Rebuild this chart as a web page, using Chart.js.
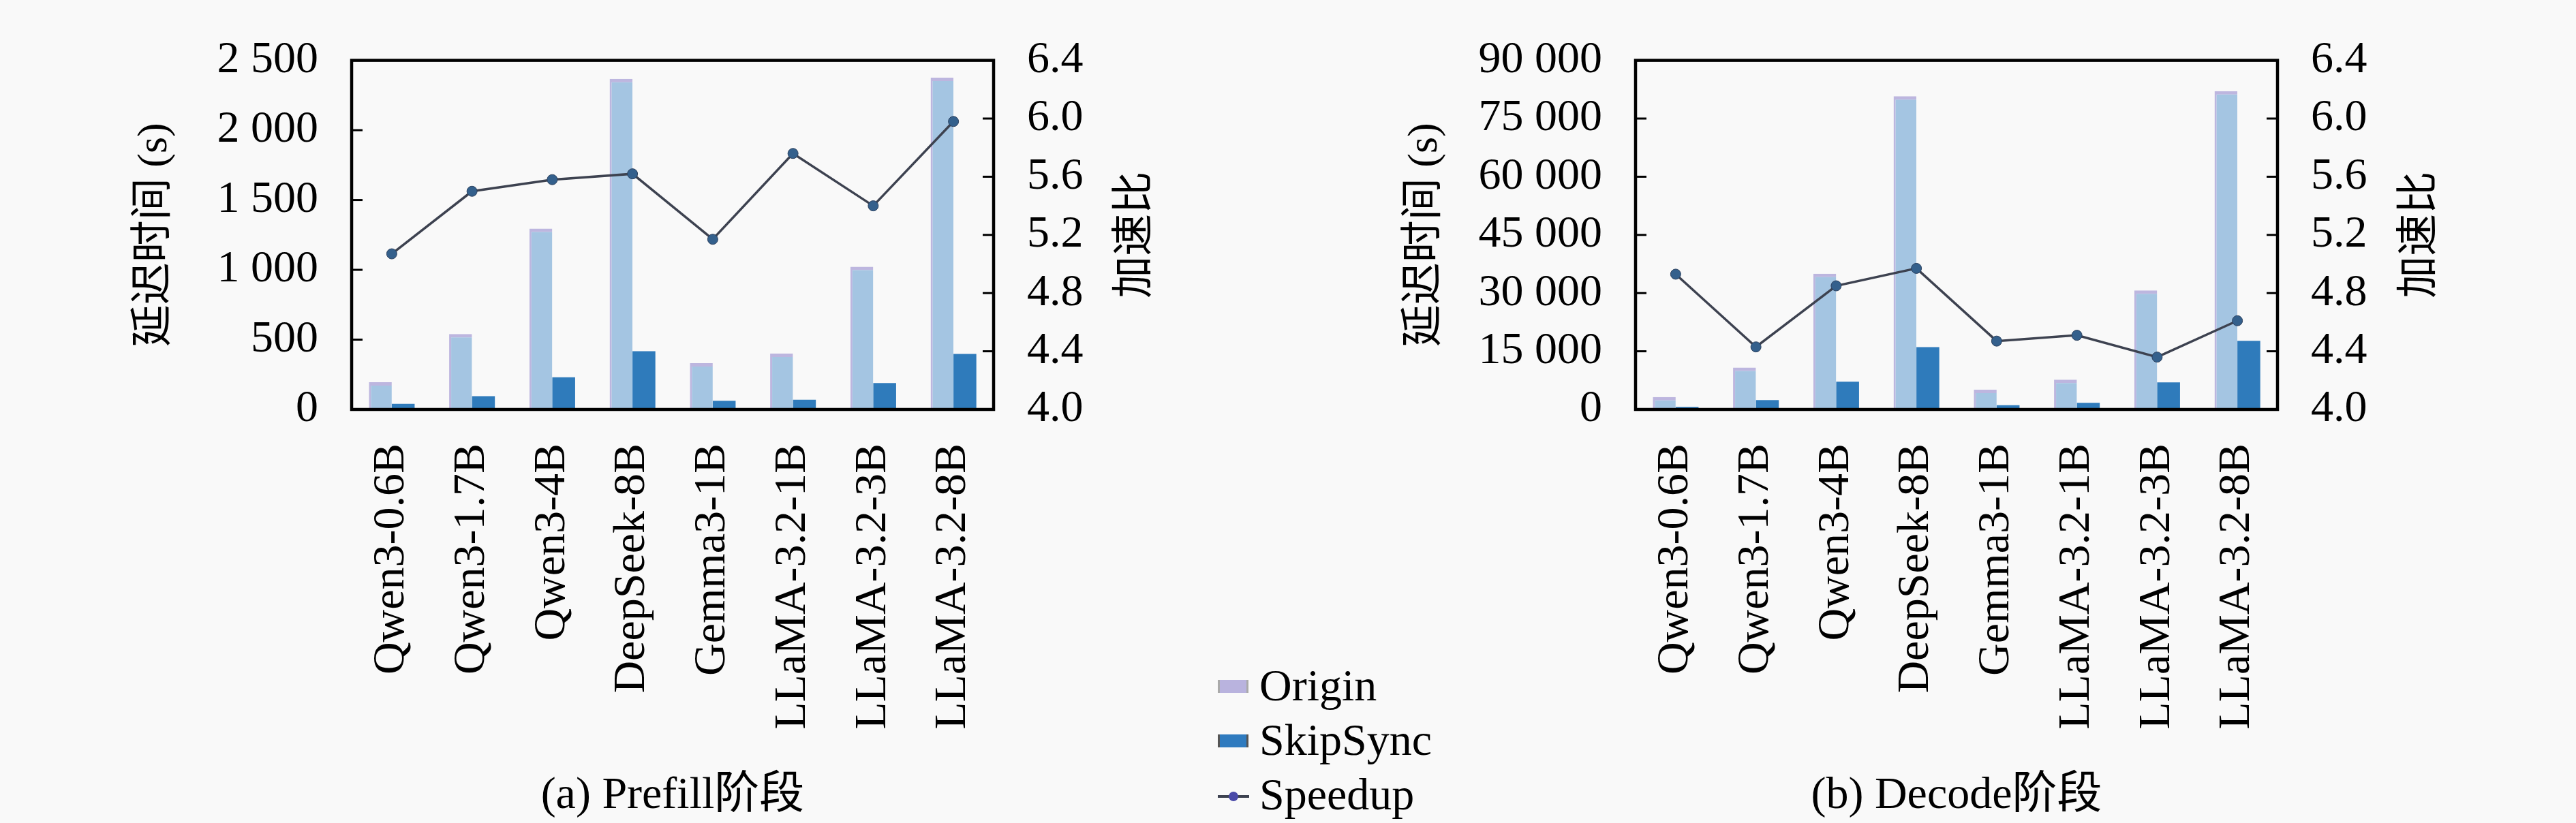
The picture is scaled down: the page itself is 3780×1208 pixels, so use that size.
<!DOCTYPE html>
<html>
<head>
<meta charset="utf-8">
<script src="https://cdn.jsdelivr.net/npm/chart.js@4.4.1/dist/chart.umd.min.js"></script>
<style>
  html, body { margin:0; padding:0; background:#f9f9f9; }
  #page { position:relative; width:3780px; height:1208px; overflow:hidden; background:#f9f9f9; }
  canvas { position:absolute; top:0; }
  .lg { position:absolute; font-family:"Liberation Serif", serif; font-size:66px; line-height:80px; height:80px; color:#000; white-space:nowrap; }
  .sw { position:absolute; }
</style>
</head>
<body>
<div id="page">
  <canvas id="c1" width="1700" height="1208" style="left:0px;width:1700px;height:1208px;"></canvas>
  <canvas id="c2" width="1880" height="1208" style="left:1900px;width:1880px;height:1208px;"></canvas>
  <div class="sw" style="left:1787px;top:998px;width:45px;height:19px;background:#b9b3de;box-shadow:inset 3px 0 0 #aaa,inset -3px 0 0 #aaa;"></div>
  <div class="lg" style="left:1848px;top:966px;">Origin</div>
  <div class="sw" style="left:1787px;top:1078px;width:45px;height:19px;background:#2f7bbf;box-shadow:inset 3px 0 0 #555,inset -3px 0 0 #555;"></div>
  <div class="lg" style="left:1848px;top:1046px;">SkipSync</div>
  <div class="sw" style="left:1787px;top:1167px;width:46px;height:4px;background:#3d4250;"></div>
  <div class="sw" style="left:1803px;top:1162px;width:14px;height:14px;border-radius:50%;background:#4a4aa8;"></div>
  <div class="lg" style="left:1848px;top:1126px;">Speedup</div>
</div>
<script>
// ---- data ----
const categories = ['Qwen3-0.6B','Qwen3-1.7B','Qwen3-4B','DeepSeek-8B','Gemma3-1B','LLaMA-3.2-1B','LLaMA-3.2-3B','LLaMA-3.2-8B'];
const seriesNames = ['Origin','SkipSync','Speedup'];
const prefillOrigin   = [195, 540, 1295, 2367, 332, 400, 1022, 2376];
const prefillSkipSync = [40, 95, 230, 417, 62, 69, 189, 398];
const prefillSpeedup  = [5.07, 5.50, 5.58, 5.62, 5.17, 5.76, 5.40, 5.98];
const decodeOrigin    = [3190, 10790, 34990, 80760, 5100, 7680, 30680, 82070];
const decodeSkipSync  = [650, 2400, 7170, 16070, 1100, 1720, 7000, 17700];
const decodeSpeedup   = [4.93, 4.43, 4.85, 4.97, 4.47, 4.51, 4.36, 4.61];
const prefillLatencyTicks = [0, 500, 1000, 1500, 2000, 2500];
const decodeLatencyTicks  = [0, 15000, 30000, 45000, 60000, 75000, 90000];
const speedupTicks        = [4.0, 4.4, 4.8, 5.2, 5.6, 6.0, 6.4];
const latencyTitle = '延迟时间 (s)';
const speedupTitle = '加速比';
const captionPrefill = '(a) Prefill阶段';
const captionDecode  = '(b) Decode阶段';

// ---- styling ----
const SERIF = '"Liberation Serif", "Noto Sans CJK SC", serif';
const tickFont = { family: SERIF, size: 66 };
const titleFont = { family: SERIF, size: 62 };

function fmtThousands(v) {
  if (v >= 1000) return Math.floor(v / 1000) + ' ' + String(v % 1000).padStart(3, '0');
  return String(v);
}

const framePlugin = {
  id: 'frame',
  afterDatasetsDraw(chart, args, opts) {
    const { ctx, chartArea: a, scales } = chart;
    ctx.save();
    ctx.strokeStyle = '#000';
    ctx.lineWidth = 3;
    scales.y.ticks.forEach(t => {
      const yy = scales.y.getPixelForValue(t.value);
      ctx.beginPath(); ctx.moveTo(a.left, yy); ctx.lineTo(a.left + 16, yy); ctx.stroke();
    });
    scales.y1.ticks.forEach(t => {
      const yy = scales.y1.getPixelForValue(t.value);
      ctx.beginPath(); ctx.moveTo(a.right, yy); ctx.lineTo(a.right - 16, yy); ctx.stroke();
    });
    ctx.lineWidth = 4.5;
    ctx.strokeRect(a.left, a.top, a.right - a.left, a.bottom - a.top);
    // right axis title, reading bottom-to-top
    ctx.translate(opts.titleX, (a.top + a.bottom) / 2);
    ctx.rotate(-Math.PI / 2);
    ctx.fillStyle = '#000';
    ctx.font = titleFont.size + 'px ' + SERIF;
    ctx.textAlign = 'center';
    ctx.textBaseline = 'middle';
    ctx.fillText(speedupTitle, 0, 0);
    ctx.restore();
  }
};

function makeChart(id, origin, skip, speedup, latTicks, caption, yWidth, yTitlePad, y1Width, rightTitleX) {
  return new Chart(document.getElementById(id), {
    data: {
      labels: categories,
      datasets: [
        { type: 'line', label: seriesNames[2], data: speedup, yAxisID: 'y1', order: 0,
          borderColor: '#3d4250', borderWidth: 3.5, pointRadius: 7.5,
          pointBackgroundColor: '#34608c', pointBorderColor: '#2b3f5c', pointBorderWidth: 1 },
        { type: 'bar', label: seriesNames[0], data: origin, yAxisID: 'y', order: 1,
          backgroundColor: '#a4c5e2', borderColor: '#bdb6df',
          borderWidth: { top: 5, left: 3, right: 0, bottom: 0 }, borderSkipped: false,
          barPercentage: 1, categoryPercentage: 0.57 },
        { type: 'bar', label: seriesNames[1], data: skip, yAxisID: 'y', order: 1,
          backgroundColor: '#2f7bbb', borderColor: '#2a6aa3', borderWidth: 0,
          barPercentage: 1, categoryPercentage: 0.57 }
      ]
    },
    options: {
      responsive: false,
      animation: false,
      devicePixelRatio: 1,
      layout: { padding: { top: 36, left: 0, right: 0, bottom: 0 } },
      plugins: { legend: { display: false }, tooltip: { enabled: false }, frame: { titleX: rightTitleX } },
      scales: {
        x: {
          grid: { display: false, drawTicks: false },
          border: { display: false },
          ticks: { minRotation: 90, maxRotation: 90, padding: 50, color: '#000', font: tickFont, autoSkip: false },
          title: { display: true, text: caption, color: '#000', font: tickFont, padding: { top: 0, bottom: 0 } },
          afterFit(s) { s.height = 607; }
        },
        y: {
          position: 'left',
          min: latTicks[0], max: latTicks[latTicks.length - 1],
          afterBuildTicks(s) { s.ticks = latTicks.map(v => ({ value: v })); },
          grid: { display: false, drawTicks: false },
          border: { display: false },
          ticks: { padding: 49, color: '#000', font: tickFont, callback: v => fmtThousands(v) },
          title: { display: true, text: latencyTitle, color: '#000', font: titleFont, padding: { top: yTitlePad, bottom: 0 } },
          afterFit(s) { s.width = yWidth; }
        },
        y1: {
          position: 'right',
          min: speedupTicks[0], max: speedupTicks[speedupTicks.length - 1],
          afterBuildTicks(s) { s.ticks = speedupTicks.map(v => ({ value: v })); },
          grid: { display: false, drawTicks: false },
          border: { display: false },
          ticks: { padding: 49, color: '#000', font: tickFont, callback: v => Number(v).toFixed(1) },
          afterFit(s) { s.width = y1Width; }
        }
      }
    },
    plugins: [framePlugin]
  });
}

makeChart('c1', prefillOrigin, prefillSkipSync, prefillSpeedup, prefillLatencyTicks, captionPrefill, 516, 191, 242, 1668);
makeChart('c2', decodeOrigin, decodeSkipSync, decodeSpeedup, decodeLatencyTicks, captionDecode, 500, 155, 438, 1653);
</script>
</body>
</html>
